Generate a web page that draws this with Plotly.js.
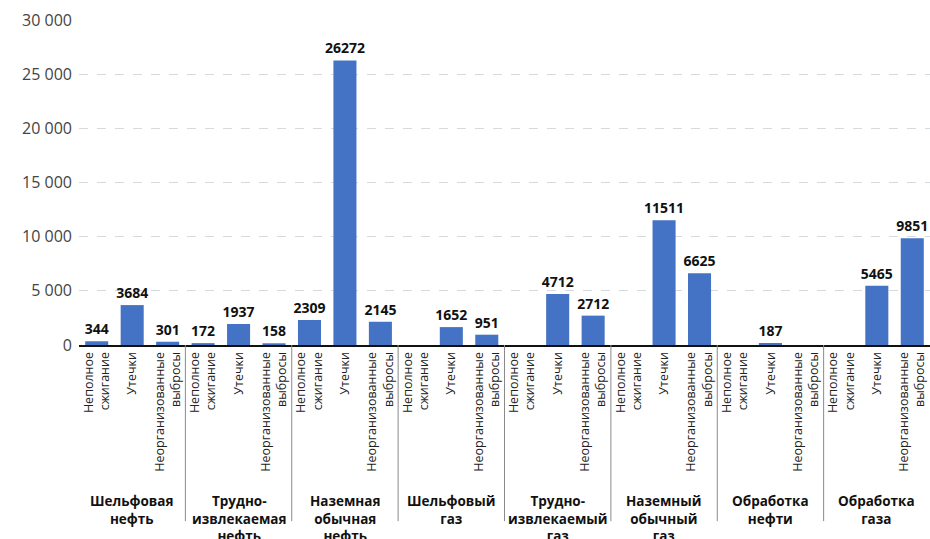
<!DOCTYPE html>
<html>
<head>
<meta charset="utf-8">
<script src="https://cdn.plot.ly/plotly-3.0.1.min.js"></script>
<style>
  html, body { margin: 0; padding: 0; background: #fff; }
  #chart { width: 930px; height: 539px; }
</style>
</head>
<body>
<div id="chart"></div>
<script>
// Emission sources (outer level) and emission types (inner level)
const groups = [
  'Шельфовая<br>нефть',
  'Трудно-<br>извлекаемая<br>нефть',
  'Наземная<br>обычная<br>нефть',
  'Шельфовый<br>газ',
  'Трудно-<br>извлекаемый<br>газ',
  'Наземный<br>обычный<br>газ',
  'Обработка<br>нефти',
  'Обработка<br>газа'
];
const types = [
  'Неполное<br>сжигание',
  'Утечки',
  'Неорганизованные<br>выбросы'
];

// Values per source, in the order of `types` (null = no data)
const shelfOil      = [344, 3684, 301];
const tightOil      = [172, 1937, 158];
const onshoreOil    = [2309, 26272, 2145];
const shelfGas      = [null, 1652, 951];
const tightGas      = [null, 4712, 2712];
const onshoreGas    = [null, 11511, 6625];
const oilProcessing = [null, 187, null];
const gasProcessing = [null, 5465, 9851];

const seriesBySource = [shelfOil, tightOil, onshoreOil, shelfGas,
                        tightGas, onshoreGas, oilProcessing, gasProcessing];

const yTicks = [0, 5000, 10000, 15000, 20000, 25000, 30000];

// Flatten: one slot per (source, type) pair
const pos = [], tickText = [], vals = [], labels = [];
seriesBySource.forEach((arr, gi) => {
  arr.forEach((v, ti) => {
    pos.push(gi * types.length + ti);
    tickText.push(types[ti]);
    vals.push(v);
    labels.push(v == null ? '' : String(v));
  });
});

const FONT = 'Open Sans, Lato, sans-serif';
const n = types.length;

// Source names centred under each block of bars
const groupLabels = groups.map((g, gi) => ({
  xref: 'x', yref: 'paper',
  x: gi * n + (n - 1) / 2,
  y: -0.445,
  yanchor: 'top',
  showarrow: false,
  text: g.split('<br>').map(s => '<b>' + s + '</b>').join('<br>'),
  font: { family: FONT, size: 13.5, color: '#111' },
  align: 'center'
}));

// Thin dividers between neighbouring sources
const dividers = groups.slice(1).map((g, i) => ({
  type: 'line',
  xref: 'x', yref: 'paper',
  x0: (i + 1) * n - 0.5, x1: (i + 1) * n - 0.5,
  y0: 0, y1: -0.542,
  line: { color: '#8a8a8a', width: 1 }
}));

const trace = {
  type: 'bar',
  x: pos,
  y: vals,
  text: labels,
  textposition: 'outside',
  constraintext: 'none',
  cliponaxis: false,
  textfont: { family: FONT, size: 14, color: '#111', weight: 'bold' },
  marker: { color: '#4472C4' },
  hoverinfo: 'y'
};

const layout = {
  width: 930,
  height: 539,
  margin: { l: 79, r: 0, t: 20, b: 194 },
  paper_bgcolor: '#fff',
  plot_bgcolor: '#fff',
  separators: '. ',
  bargap: 0.35,
  showlegend: false,
  font: { family: FONT, color: '#222' },
  xaxis: {
    range: [-0.5, pos.length - 0.5],
    tickvals: pos,
    ticktext: tickText,
    tickangle: -90,
    tickfont: { family: FONT, size: 12.5, color: '#222' },
    showline: true,
    linecolor: '#111',
    linewidth: 2,
    ticks: '',
    showgrid: false,
    zeroline: false
  },
  yaxis: {
    range: [0, 30000],
    tickvals: yTicks,
    tickformat: ',d',
    separatethousands: true,
    tickfont: { family: FONT, size: 16, color: '#444' },
    showgrid: true,
    gridcolor: '#d3dae0',
    griddash: 'dash',
    gridwidth: 1,
    zeroline: false,
    showline: false,
    ticklabelstandoff: 6
  },
  annotations: groupLabels,
  shapes: dividers
};

Plotly.newPlot('chart', [trace], layout, { displayModeBar: false, staticPlot: true });
</script>
</body>
</html>
